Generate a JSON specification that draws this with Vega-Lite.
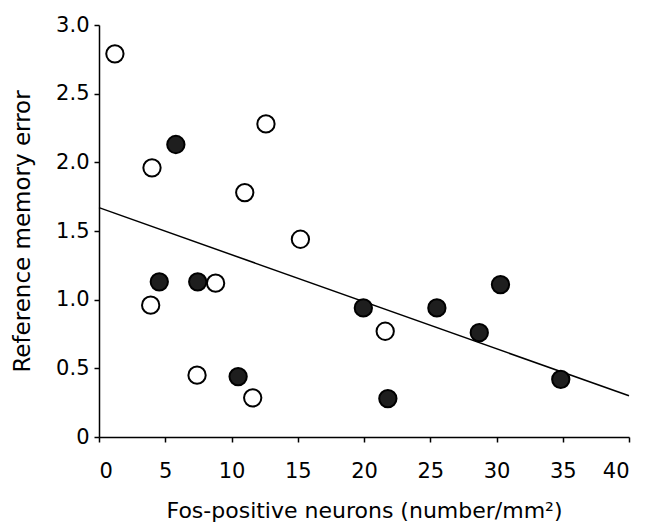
{
  "$schema": "https://vega.github.io/schema/vega-lite/v6.json",
  "autosize": "none",
  "width": 530,
  "height": 412,
  "padding": {"left": 99, "top": 25, "right": 16, "bottom": 86},
  "background": "white",
  "config": {
    "view": {"stroke": null},
    "font": "DejaVu Sans",
    "axis": {
      "grid": false,
      "domainColor": "black",
      "domainWidth": 1.5,
      "tickColor": "black",
      "tickWidth": 1.5,
      "tickSize": 5,
      "labelColor": "black",
      "titleColor": "black",
      "labelFont": "DejaVu Sans",
      "titleFont": "DejaVu Sans",
      "labelFontSize": 21,
      "titleFontSize": 23,
      "titleFontWeight": "normal"
    }
  },
  "layer": [
    {
      "data": {"values": [{"x": 0, "y": 1.67}, {"x": 40, "y": 0.3}]},
      "mark": {"type": "line", "color": "black", "strokeWidth": 1.5},
      "encoding": {
        "x": {"field": "x", "type": "quantitative", "scale": {"domain": [0, 40], "nice": false, "zero": false},
              "axis": {"values": [0, 5, 10, 15, 20, 25, 30, 35, 40], "title": "Fos-positive neurons (number/mm²)", "titleFontSize": 22, "labelPadding": 18, "titlePadding": 19}},
        "y": {"field": "y", "type": "quantitative", "scale": {"domain": [0, 3], "nice": false},
              "axis": {"values": [0, 0.5, 1, 1.5, 2, 2.5, 3], "labelExpr": "datum.value == 0 ? '0' : format(datum.value, '.1f')", "title": "Reference memory error", "labelPadding": 5, "titlePadding": 21}}
      }
    },
    {
      "data": {"values": [
        {"x": 1.2, "y": 2.79, "group": "open"},
        {"x": 4.0, "y": 1.96, "group": "open"},
        {"x": 12.6, "y": 2.28, "group": "open"},
        {"x": 11.0, "y": 1.78, "group": "open"},
        {"x": 15.2, "y": 1.44, "group": "open"},
        {"x": 3.9, "y": 0.96, "group": "open"},
        {"x": 8.8, "y": 1.12, "group": "open"},
        {"x": 7.4, "y": 0.45, "group": "open"},
        {"x": 11.6, "y": 0.285, "group": "open"},
        {"x": 21.6, "y": 0.77, "group": "open"},
        {"x": 5.8, "y": 2.13, "group": "filled"},
        {"x": 4.55, "y": 1.13, "group": "filled"},
        {"x": 7.45, "y": 1.13, "group": "filled"},
        {"x": 10.5, "y": 0.44, "group": "filled"},
        {"x": 19.95, "y": 0.94, "group": "filled"},
        {"x": 25.5, "y": 0.94, "group": "filled"},
        {"x": 30.3, "y": 1.11, "group": "filled"},
        {"x": 28.7, "y": 0.76, "group": "filled"},
        {"x": 34.85, "y": 0.42, "group": "filled"},
        {"x": 21.8, "y": 0.28, "group": "filled"}
      ]},
      "mark": {"type": "point", "shape": "circle", "filled": true, "size": 300, "stroke": "black", "strokeWidth": 2, "opacity": 1},
      "encoding": {
        "x": {"field": "x", "type": "quantitative"},
        "y": {"field": "y", "type": "quantitative"},
        "fill": {"field": "group", "type": "nominal", "scale": {"domain": ["open", "filled"], "range": ["white", "#1e1e1e"]}, "legend": null}
      }
    }
  ]
}
